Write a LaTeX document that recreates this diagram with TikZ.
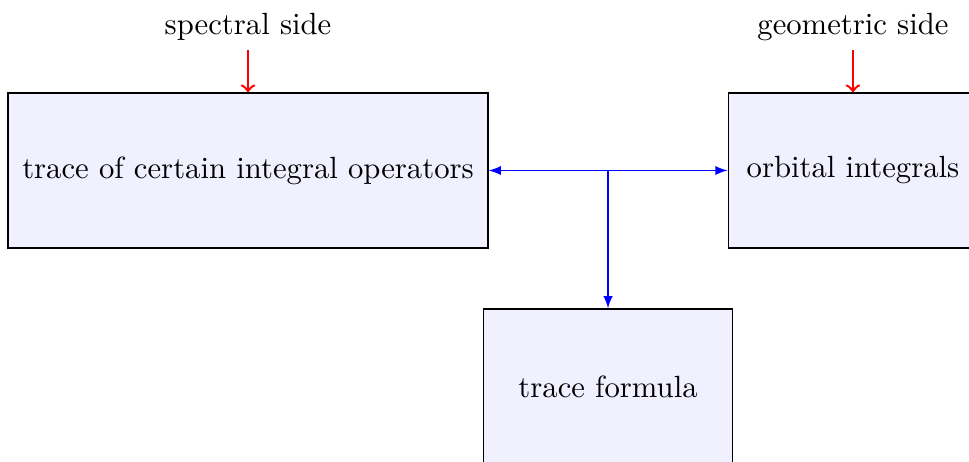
\documentclass[tikz,border=0pt]{standalone}
\usetikzlibrary{arrows}
\begin{document}
\begin{tikzpicture}[>=latex]
  \tikzset{blockbox/.style={shape=rectangle,draw,fill=blue!6,minimum height=1.775cm}}
  \useasboundingbox (0,0) rectangle (11.10,-5.292);

  \node (trace) at (2.841,-1.953) [blockbox,minimum width=5.50cm] {trace of certain integral operators};
  \node (orbit) at (9.771,-1.953) [blockbox,minimum width=2.86cm] {orbital integrals};
  \node (formula) at (6.965,-4.427) [blockbox,minimum width=2.86cm] {trace formula};

  \node (spec) at (2.841,-0.309) {spectral side};
  \node (geom) at (9.771,-0.309) {geometric side};
  \coordinate (specend) at (2.841,-0.573);
  \coordinate (geomend) at (9.771,-0.573);
  \coordinate (mid) at (formula.north |- trace.east);

  \draw [red,thick,-to] (specend) -- (trace.north);
  \draw [red,thick,-to] (geomend) -- (orbit.north);
  \draw [blue,<->] (trace.east) -- (orbit.west);
  \draw [blue,->] (mid) -- (formula.north);
\end{tikzpicture}
\end{document}
